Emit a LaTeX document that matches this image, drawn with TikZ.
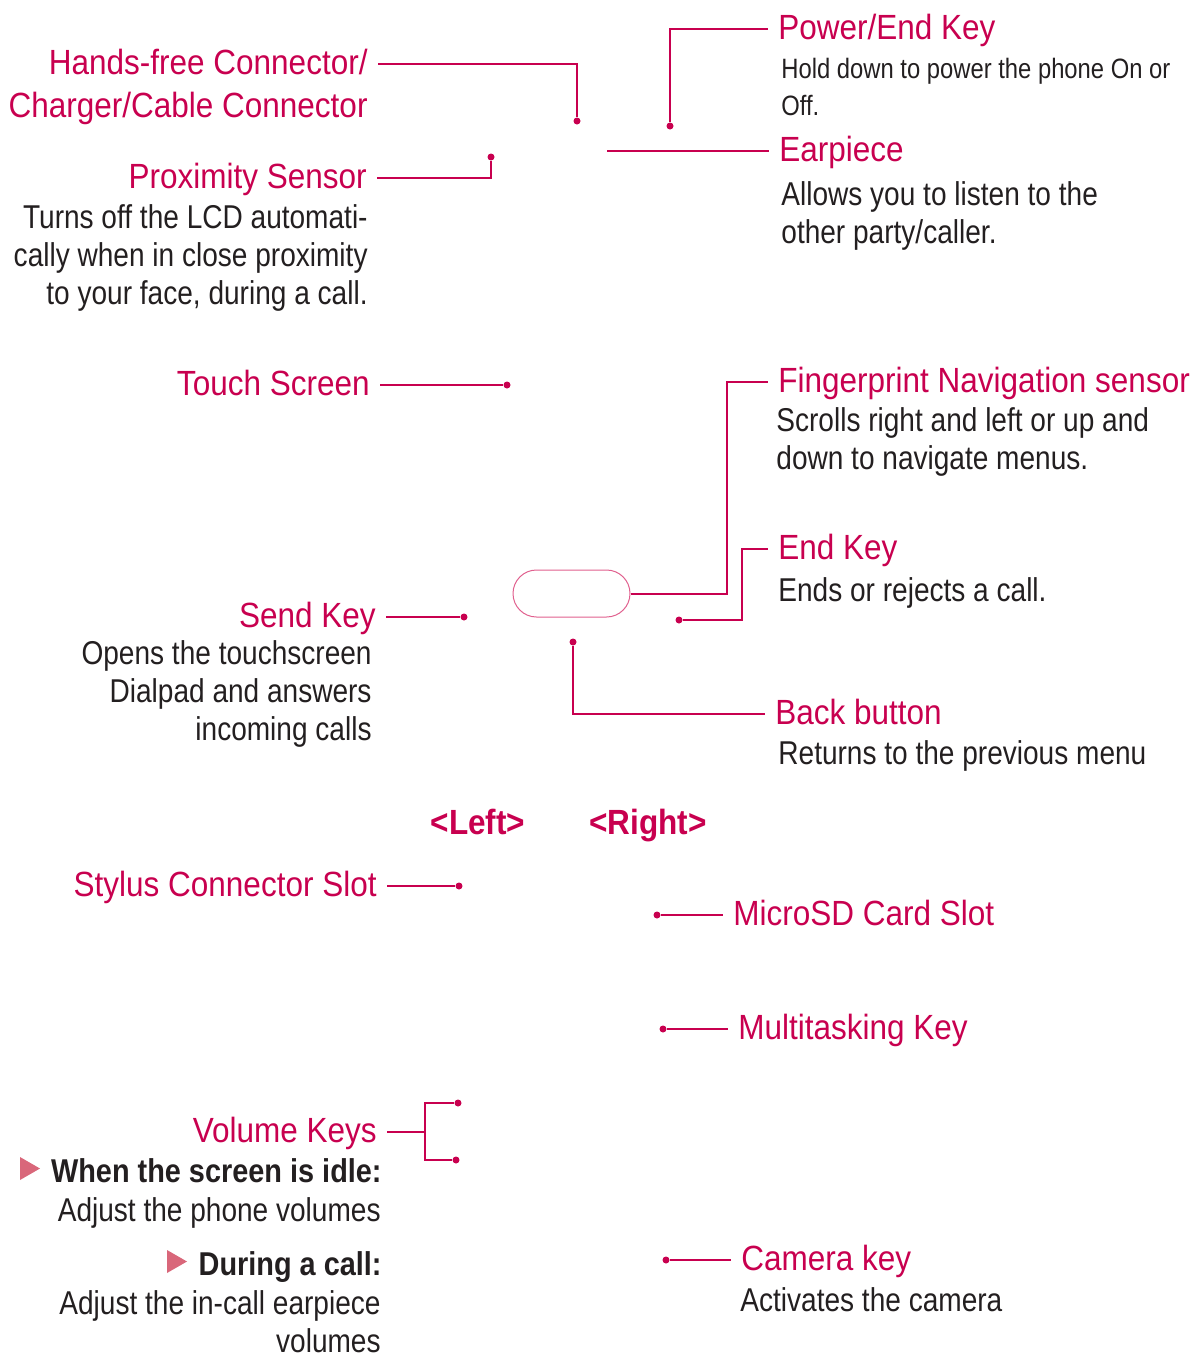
\documentclass[tikz,border=0pt]{standalone}
\usepackage{fontspec}
\setmainfont{Liberation Sans}
\newfontfamily\headfont{Liberation Sans}[FakeStretch=0.9]
\newfontfamily\bodyfont{Liberation Sans}[FakeStretch=0.85]
\newfontfamily\callfont{Liberation Sans}[FakeStretch=0.875]
\usepackage{tikz}
\usetikzlibrary{shapes.misc}
\definecolor{lgred}{HTML}{C8004F}
\definecolor{txtgray}{HTML}{231F20}
\definecolor{bulletred}{HTML}{D9677A}
\definecolor{keypink}{HTML}{E0608E}

\begin{document}
\begin{tikzpicture}[x=0.5pt, y=-0.5pt,
    head/.style={font=\headfont\fontsize{17.5}{21}\selectfont, text=lgred, inner xsep=5pt, inner ysep=0pt, text height=10.5pt, text depth=0pt},
    side/.style={font=\headfont\bfseries\fontsize{17.5}{21}\selectfont, text=lgred, inner sep=0pt},
    body/.style={font=\bodyfont\fontsize{16.5}{19}\selectfont, text=txtgray, inner sep=0pt},
    smallbody/.style={body, font=\bodyfont\fontsize{14}{18.5}\selectfont},
    boldbody/.style={body, font=\callfont\bfseries\fontsize{16.5}{19}\selectfont},
    lead/.style={draw=lgred, line width=1pt},
    dot/.style={circle, fill=lgred, inner sep=0pt, minimum size=3.5pt},
    bullet/.style={fill=bulletred}]
    \useasboundingbox (0,0) rectangle (1204,1356);

    % left side
    \node[head, anchor=east] (hf) at (378,64) {Hands-free Connector/};
    \node[head, anchor=base east] (hf2) at (378,117) {Charger/Cable Connector};
    \node[head, anchor=east] (prox) at (377,178) {Proximity Sensor};
    \node[body, anchor=base east, align=right] (proxtxt) at (368,304) {Turns off the LCD automati-\\cally when in close proximity\\to your face, during a call.};
    \node[head, anchor=east] (touch) at (380,385) {Touch Screen};
    \node[head, anchor=east] (send) at (386,617) {Send Key};
    \node[body, anchor=base east, align=right] (sendtxt) at (372,740) {Opens the touchscreen\\Dialpad and answers\\incoming calls};
    \node[head, anchor=east] (stylus) at (387,886) {Stylus Connector Slot};
    \node[head, anchor=east] (vol) at (387,1132) {Volume Keys};
    \node[boldbody, anchor=base east] (idle) at (382,1182) {When the screen is idle:};
    \node[body, anchor=base east] (idletxt) at (381,1221) {Adjust the phone volumes};
    \node[boldbody, anchor=base east] (call) at (382,1275) {During a call:};
    \node[body, anchor=base east, align=right] (calltxt) at (381,1352) {Adjust the in-call earpiece\\volumes};
    \fill[bullet] (20,1157) -- (40,1168.5) -- (20,1180) -- cycle;
    \fill[bullet] (167,1250) -- (187,1261.5) -- (167,1273) -- cycle;

    % right side
    \node[head, anchor=west] (power) at (768,29) {Power/End Key};
    \node[smallbody, anchor=base west, align=left] (powertxt) at (781,115) {Hold down to power the phone On or\\Off.};
    \node[head, anchor=west] (ear) at (769,151) {Earpiece};
    \node[body, anchor=base west, align=left] (eartxt) at (781,243) {Allows you to listen to the\\other party/caller.};
    \node[head, anchor=west] (finger) at (768,382) {Fingerprint Navigation sensor};
    \node[body, anchor=base west, align=left] (fingertxt) at (776,469) {Scrolls right and left or up and\\down to navigate menus.};
    \node[head, anchor=west] (endk) at (768,549) {End Key};
    \node[body, anchor=base west] (endtxt) at (778,601) {Ends or rejects a call.};
    \node[head, anchor=west] (back) at (765,714) {Back button};
    \node[body, anchor=base west] (backtxt) at (778,764) {Returns to the previous menu};
    \node[head, anchor=west] (sd) at (723,915) {MicroSD Card Slot};
    \node[head, anchor=west] (multi) at (728,1029) {Multitasking Key};
    \node[head, anchor=west] (cam) at (731,1260) {Camera key};
    \node[body, anchor=base west] (camtxt) at (740,1311) {Activates the camera};

    % side titles
    \node[side, anchor=base] (lft) at (478,834) {<Left>};
    \node[side, anchor=base] (rgt) at (648,834) {<Right>};

    % key and dots
    \node[rounded rectangle, draw=keypink, line width=0.5pt, minimum width=58.5pt, minimum height=23.5pt, inner sep=0pt] (fp) at (571.5,593.5) {};
    \node[dot] (d1) at (577,121) {};
    \node[dot] (d2) at (491,157) {};
    \node[dot] (d3) at (670,126) {};
    \coordinate (ep) at (607,151);
    \node[dot] (d4) at (507,385) {};
    \node[dot] (d5) at (679,620) {};
    \node[dot] (d6) at (464,617) {};
    \node[dot] (d7) at (573,642) {};
    \node[dot] (d8) at (459,886) {};
    \node[dot] (d9) at (657,915) {};
    \node[dot] (d10) at (663,1029) {};
    \node[dot] (d11) at (666,1260) {};
    \node[dot] (d12) at (458,1103) {};
    \node[dot] (d13) at (456,1160) {};
    \coordinate (vb) at (425,1132);

    \draw[lead] (hf.east) -| (d1);
    \draw[lead] (prox.east) -| (d2);
    \draw[lead] (d3) |- (power.west);
    \draw[lead] (ep) -- (ear.west);
    \draw[lead] (touch.east) -- (d4);
    \draw[lead] (fp.east) -| ([xshift=-20.5pt]finger.west) -- (finger.west);
    \draw[lead] (d5) -| ([xshift=-13pt]endk.west) -- (endk.west);
    \draw[lead] (send.east) -- (d6);
    \draw[lead] (d7) |- (back.west);
    \draw[lead] (stylus.east) -- (d8);
    \draw[lead] (d9) -- (sd.west);
    \draw[lead] (d10) -- (multi.west);
    \draw[lead] (d11) -- (cam.west);
    \draw[lead] (vol.east) -- (vb);
    \draw[lead] (d12) -| (vb) |- (d13);
\end{tikzpicture}
\end{document}
